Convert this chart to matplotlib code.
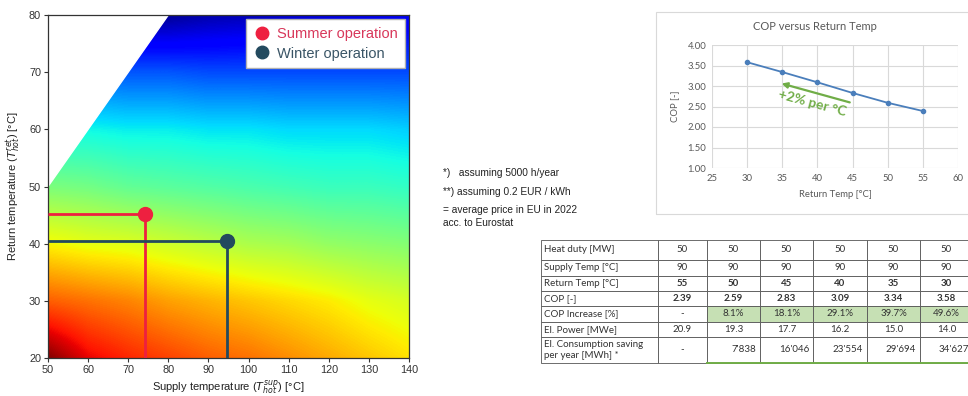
import numpy as np
import matplotlib
matplotlib.use("Agg")
import matplotlib.pyplot as plt
from matplotlib.lines import Line2D
from matplotlib.patches import Rectangle

W, H = 968, 396

# ---------------------------------------------------------------- data
# Relative heat-pump performance over the operating map (jet colour index)
supply_grid = [50, 60, 70, 80, 90, 100, 110, 120, 130, 140]
return_grid = [20, 30, 40, 50, 60, 70, 80]
perf_field = [
    [1.00, 0.91, 0.87, 0.84, 0.81, 0.79, 0.76, 0.73, 0.70, 0.67],
    [0.81, 0.79, 0.77, 0.74, 0.72, 0.70, 0.68, 0.66, 0.63, 0.61],
    [0.65, 0.63, 0.62, 0.60, 0.58, 0.56, 0.55, 0.53, 0.52, 0.51],
    [0.50, 0.49, 0.47, 0.46, 0.45, 0.44, 0.43, 0.42, 0.42, 0.41],
    [0.37, 0.37, 0.36, 0.36, 0.35, 0.35, 0.34, 0.34, 0.34, 0.33],
    [0.22, 0.22, 0.21, 0.21, 0.20, 0.20, 0.20, 0.20, 0.20, 0.20],
    [0.02, 0.02, 0.02, 0.02, 0.04, 0.05, 0.07, 0.08, 0.09, 0.10],
]

op_names = ["Summer operation", "Winter operation"]
op_supply = [74.3, 94.6]
op_return = [45.2, 40.4]
op_colors = ["#ee2040", "#234a5e"]
op_text_colors = ["#d8375a", "#3a5566"]

notes = [
    "*)   assuming 5000 h/year",
    "**) assuming 0.2 EUR / kWh",
    "= average price in EU in 2022",
    "acc. to Eurostat",
]

row_labels = [
    "Heat duty [MW]",
    "Supply Temp [°C]",
    "Return Temp [°C]",
    "COP [-]",
    "COP Increase [%]",
    "El. Power [MWe]",
    "El. Consumption saving\nper year [MWh] *",
]
heat_duty = [50, 50, 50, 50, 50, 50]
supply_temp = [90, 90, 90, 90, 90, 90]
return_temp = [55, 50, 45, 40, 35, 30]
cop = [2.39, 2.59, 2.83, 3.09, 3.34, 3.58]
cop_increase = [None, 8.1, 18.1, 29.1, 39.7, 49.6]
el_power = [20.9, 19.3, 17.7, 16.2, 15.0, 14.0]
el_saving = [None, 7838, 16046, 23554, 29694, 34627]

# ---------------------------------------------------------------- figure
fig = plt.figure(figsize=(W / 100, H / 100), dpi=100)
fig.patch.set_facecolor("white")


def px_axes(left, top, right, bottom):
    return fig.add_axes([left / W, 1 - bottom / H, (right - left) / W, (bottom - top) / H])


# ---------------------------------------------------------------- operating map
ax = px_axes(48, 15, 409, 358)
dx = (supply_grid[1] - supply_grid[0]) / 2
dy = (return_grid[1] - return_grid[0]) / 2
ax.imshow(np.array(perf_field), origin="lower", cmap="jet", vmin=0, vmax=1,
          interpolation="bilinear", aspect="auto",
          extent=(supply_grid[0] - dx, supply_grid[-1] + dx,
                  return_grid[0] - dy, return_grid[-1] + dy))
# infeasible region: return above supply temperature
ax.fill_between(supply_grid, supply_grid, return_grid[-1], color="white", zorder=2)
ax.set_xlim(supply_grid[0], supply_grid[-1])
ax.set_ylim(return_grid[0], return_grid[-1])

for xs, yr, c in zip(op_supply, op_return, op_colors):
    ax.hlines(yr, supply_grid[0], xs, color=c, lw=2.0, zorder=3)
    ax.vlines(xs, return_grid[0], yr, color=c, lw=2.0, zorder=3)
    ax.plot([xs], [yr], "o", color=c, ms=10, zorder=4, clip_on=False)

handles = [Line2D([], [], ls="none", marker="o", ms=9, color=c) for c in op_colors]
leg = ax.legend(handles, op_names, loc="upper right",
                frameon=True, fancybox=False, framealpha=1, edgecolor="#b0b0b0",
                borderaxespad=0.3, handletextpad=0.4, handlelength=1.2,
                borderpad=0.5, labelspacing=0.4,
                prop={"family": "Liberation Sans", "size": 10.5})
for t, c in zip(leg.get_texts(), op_text_colors):
    t.set_color(c)
leg.set_zorder(6)

ax.set_xticks(supply_grid)
ax.set_yticks([20, 30, 40, 50, 60, 70, 80])
for lab in ax.get_xticklabels() + ax.get_yticklabels():
    lab.set_family("Liberation Sans")
ax.tick_params(labelsize=7.8, length=3, width=0.8, colors="#333333", pad=2)
for s in ax.spines.values():
    s.set_color("#333333")
    s.set_linewidth(0.9)
ax.set_xlabel(r"Supply temperature ($T_{hot}^{sup}$) [°C]", fontsize=8,
              family="Liberation Sans", color="#222222", labelpad=3)
ax.set_ylabel(r"Return temperature ($T_{hot}^{ret}$) [°C]", fontsize=8,
              family="Liberation Sans", color="#222222", labelpad=4)

# ---------------------------------------------------------------- footnotes
for txt, y in zip(notes, [173, 192, 210, 223]):
    fig.text(443 / W, 1 - y / H, txt, fontsize=7.3, family="Liberation Sans",
             color="#222222", va="center", ha="left")

# ---------------------------------------------------------------- COP chart
fig.add_artist(Rectangle((656 / W, 1 - 214 / H), (980 - 656) / W, (214 - 12) / H,
                         transform=fig.transFigure, fill=False,
                         edgecolor="#d9d9d9", lw=0.8))
cx = px_axes(712, 45, 958, 168)
order = np.argsort(return_temp)
rt_sorted = np.array(return_temp)[order]
cop_sorted = np.array(cop)[order]
cx.plot(rt_sorted, cop_sorted, color="#4a7ebb", lw=1.3, marker="o", ms=3,
        zorder=3)
cx.set_xlim(25, 60)
cx.set_ylim(1.0, 4.0)
cx.set_xticks([25, 30, 35, 40, 45, 50, 55, 60])
cx.set_yticks([1.0, 1.5, 2.0, 2.5, 3.0, 3.5, 4.0])
cx.set_yticklabels([f"{v:.2f}" for v in cx.get_yticks()])
cx.grid(True, color="#d9d9d9", lw=0.8)
cx.set_axisbelow(True)
for s in cx.spines.values():
    s.set_visible(False)
cx.tick_params(length=0, labelsize=6.8, colors="#595959", pad=4)
for lab in cx.get_xticklabels() + cx.get_yticklabels():
    lab.set_family("Lato")
cx.set_xlabel("Return Temp [°C]", fontsize=6.8, family="Lato", color="#595959",
              labelpad=5)
cx.set_ylabel("COP [-]", fontsize=6.8, family="Lato", color="#595959", labelpad=6)
fig.text(815 / W, 1 - 27 / H, "COP versus Return Temp", fontsize=8, family="Lato",
         color="#595959", ha="center", va="center")
green = "#70ad47"
cx.annotate("", xy=(34.9, 3.06), xytext=(44.6, 2.6),
            arrowprops=dict(arrowstyle="-|>", color=green, lw=1.6,
                            mutation_scale=8, shrinkA=0, shrinkB=0))
cx.text(39.3, 2.57, "+2% per °C", color=green, fontsize=10, fontweight="bold",
        family="Lato", rotation=-15, ha="center", va="center")

# ---------------------------------------------------------------- table
tx = px_axes(541, 240, 973, 363)
tx.set_axis_off()


def fmt_thousands(v):
    return "-" if v is None else f"{v:,}".replace(",", "'")


cell_text = [
    [row_labels[0]] + [str(v) for v in heat_duty],
    [row_labels[1]] + [str(v) for v in supply_temp],
    [row_labels[2]] + [str(v) for v in return_temp],
    [row_labels[3]] + [f"{v:.2f}" for v in cop],
    [row_labels[4]] + ["-" if v is None else f"{v:.1f}%" for v in cop_increase],
    [row_labels[5]] + [f"{v:.1f}" for v in el_power],
    [row_labels[6]] + [fmt_thousands(v) for v in el_saving],
]
col_px = [117, 49, 53, 53, 54, 53, 53]
col_widths = [c / sum(col_px) for c in col_px]
row_px = [20, 16, 15, 15, 16, 15, 26]
tab = tx.table(cellText=cell_text, colWidths=col_widths, bbox=[0, 0, 1, 1],
               cellLoc="center")
tab.auto_set_font_size(False)
tab.set_fontsize(7)
green_fill = "#c6e0b4"
for (r, c), cell in tab.get_celld().items():
    cell.set_height(row_px[r])
    cell.set_edgecolor("#555555")
    cell.set_linewidth(0.6)
    t = cell.get_text()
    t.set_family("Lato")
    t.set_color("#333333")
    if c == 0:
        t.set_ha("left")
        cell._loc = "left"
        cell.PAD = 0.025
    if r in (2, 3) and c > 0:
        t.set_fontweight("bold")
    if r == 4 and c > 0 and cop_increase[c - 1] is not None:
        cell.set_facecolor(green_fill)
    if r == 6 and c > 0 and el_saving[c - 1] is not None:
        cell._loc = "right"
        t.set_ha("right")
        cell.PAD = 0.07
first_green = (col_px[0] + col_px[1]) / sum(col_px)
tx.plot([first_green, 1], [0, 0], color=green, lw=1.4, zorder=5,
        clip_on=False, transform=tx.transAxes)

fig.savefig("out.png", dpi=100, facecolor="white")
